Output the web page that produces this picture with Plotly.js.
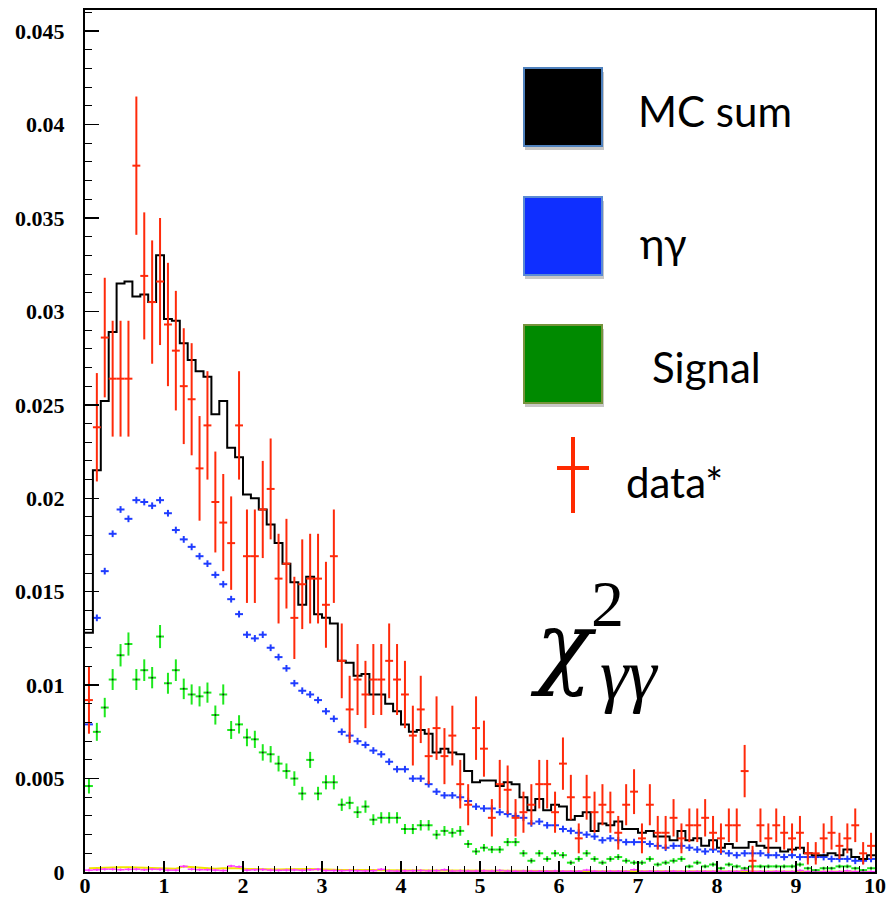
<!DOCTYPE html>
<html>
<head>
<meta charset="utf-8">
<script src="https://cdn.plot.ly/plotly-3.0.1.min.js"></script>
<style>html,body{margin:0;padding:0;background:#fff;}#chart{width:886px;height:899px;}</style>
</head>
<body>
<div id="chart"></div>
<script>
// ---- binning (100 bins of width 0.1 over 0..10) ----
const binWidth = 0.1;
const nBins = 100;

// ---- MC sum (black step histogram) ----
const mcSum = [
0.0128,0.0215,0.0252,0.0289,0.0315,0.0316,0.0308,0.0309,0.0305,0.0330,
0.0296,0.0295,0.0283,0.0274,0.0268,0.0265,0.0245,0.0252,0.0227,0.0222,
0.0202,0.0200,0.0194,0.0186,0.0176,0.0165,0.0155,0.0143,0.0158,0.0138,
0.0136,0.0133,0.0113,0.0112,0.0105,0.0106,0.0095,0.0095,0.0090,0.0086,
0.0079,0.0075,0.0076,0.0074,0.0064,0.0066,0.0064,0.0063,0.0054,0.0048,
0.0049,0.0049,0.0046,0.0048,0.0047,0.0040,0.0033,0.0039,0.0033,0.0036,
0.0035,0.0028,0.0030,0.0032,0.0022,0.0026,0.0025,0.0027,0.0023,0.0023,
0.0021,0.0022,0.0019,0.0019,0.0017,0.0022,0.0017,0.0018,0.0014,0.0017,
0.0013,0.0015,0.0013,0.0013,0.0016,0.0014,0.0013,0.0013,0.0011,0.0012,
0.0013,0.0010,0.0009,0.0009,0.0010,0.0009,0.0012,0.0008,0.0007,0.0009];

// ---- data* (red points) ----
const dataVals = [
0.0092,0.0238,0.0286,0.0264,0.0264,0.0264,0.0378,0.0319,0.0305,0.0316,
0.0293,0.0279,0.0260,0.0253,0.0216,0.0239,0.0198,0.0187,0.0176,0.0239,
0.0169,0.0169,0.0194,0.0205,0.0157,0.0165,0.0136,0.0154,0.0157,0.0157,
0.0143,0.0169,0.0113,0.0087,0.0103,0.0095,0.0103,0.0103,0.0113,0.0103,
0.0095,0.0073,0.0087,0.0062,0.0077,0.0062,0.0073,0.0047,0.0036,0.0077,
0.0066,0.0029,0.0047,0.0044,0.0029,0.0032,0.0036,0.0047,0.0047,0.0032,
0.0058,0.0040,0.0018,0.0040,0.0032,0.0036,0.0032,0.0021,0.0036,0.0043,
0.0018,0.0036,0.0021,0.0021,0.0029,0.0018,0.0025,0.0025,0.0029,0.0021,
0.0018,0.0025,0.0025,0.0054,0.0006,0.0025,0.0018,0.0025,0.0021,0.0018,
0.0021,0.0010,0.0010,0.0018,0.0021,0.0014,0.0018,0.0025,0.0010,0.0014];
const dataErr = [
0.0018,0.0029,0.0032,0.0031,0.0031,0.0031,0.0037,0.0034,0.0033,0.0034,
0.0033,0.0032,0.0031,0.0030,0.0028,0.0029,0.0027,0.0026,0.0025,0.0029,
0.0025,0.0025,0.0026,0.0027,0.0024,0.0024,0.0022,0.0024,0.0024,0.0024,
0.0023,0.0025,0.0020,0.0018,0.0019,0.0018,0.0019,0.0019,0.0020,0.0019,
0.0018,0.0016,0.0018,0.0015,0.0017,0.0015,0.0016,0.0013,0.0011,0.0017,
0.0015,0.0010,0.0013,0.0013,0.0010,0.0011,0.0011,0.0013,0.0013,0.0011,
0.0014,0.0012,0.0008,0.0012,0.0011,0.0011,0.0011,0.0009,0.0011,0.0012,
0.0008,0.0011,0.0009,0.0009,0.0010,0.0008,0.0009,0.0009,0.0010,0.0009,
0.0008,0.0009,0.0009,0.0014,0.0008,0.0009,0.0008,0.0009,0.0009,0.0008,
0.0009,0.0006,0.0006,0.0008,0.0009,0.0007,0.0008,0.0009,0.0006,0.0007];

// ---- eta gamma (blue crosses) ----
const etaGamma = [
0.0079,0.0136,0.0161,0.0181,0.0194,0.0189,0.0199,0.0198,0.0196,0.0199,
0.0192,0.0183,0.0178,0.0174,0.0169,0.0165,0.0159,0.0154,0.0146,0.0138,
0.0127,0.0125,0.0127,0.0120,0.0115,0.0109,0.0101,0.0097,0.0095,0.0092,
0.0086,0.0082,0.0075,0.0073,0.0070,0.0068,0.0065,0.0063,0.0059,0.0055,
0.0055,0.0050,0.0050,0.0047,0.0043,0.0041,0.0041,0.0040,0.0038,0.0035,
0.0034,0.0034,0.0032,0.0031,0.0030,0.0029,0.0026,0.0027,0.0025,0.0025,
0.0023,0.0022,0.0021,0.0020,0.0019,0.0017,0.0018,0.0017,0.0016,0.0016,
0.0016,0.0015,0.0014,0.0013,0.0014,0.0014,0.0013,0.0012,0.0011,0.0012,
0.0011,0.0010,0.0009,0.0010,0.0010,0.0010,0.0009,0.0009,0.0008,0.0009,
0.0008,0.0008,0.0008,0.0008,0.0007,0.0007,0.0007,0.0006,0.0006,0.0007];

// ---- Signal (green crosses) ----
const signalVals = [
0.0046,0.0075,0.0088,0.0103,0.0116,0.0122,0.0103,0.0108,0.0104,0.0126,
0.0101,0.0108,0.0098,0.0095,0.0094,0.0096,0.0084,0.0095,0.0076,0.0079,
0.0072,0.0071,0.0064,0.0063,0.0058,0.0054,0.0050,0.0042,0.0060,0.0042,
0.0048,0.0048,0.0036,0.0037,0.0032,0.0035,0.0028,0.0029,0.0029,0.0029,
0.0023,0.0023,0.0025,0.0025,0.0020,0.0022,0.0021,0.0022,0.0015,0.0011,
0.0013,0.0012,0.0012,0.0016,0.0016,0.0010,0.0006,0.0010,0.0007,0.0010,
0.0009,0.0005,0.0007,0.0010,0.0007,0.0005,0.0007,0.0008,0.0006,0.0005,
0.0005,0.0007,0.0004,0.0005,0.0006,0.0007,0.0003,0.0005,0.0003,0.0004,
0.0002,0.0004,0.0003,0.0002,0.0003,0.0003,0.0003,0.0003,0.0003,0.0003,
0.0004,0.0002,0.0001,0.0002,0.0002,0.0003,0.0003,0.0002,0.0001,0.0002];
const signalErr = [
0.00040,0.00048,0.00052,0.00056,0.00060,0.00062,0.00056,0.00058,0.00057,0.00062,
0.00056,0.00058,0.00055,0.00054,0.00054,0.00054,0.00051,0.00054,0.00048,0.00049,
0.00047,0.00046,0.00044,0.00044,0.00042,0.00041,0.00039,0.00036,0.00043,0.00036,
0.00038,0.00038,0.00033,0.00034,0.00031,0.00033,0.00029,0.00030,0.00030,0.00030,
0.00027,0.00027,0.00028,0.00028,0.00025,0.00026,0.00025,0.00026,0.00021,0.00018,
0.00020,0.00019,0.00019,0.00022,0.00022,0.00018,0.00014,0.00018,0.00015,0.00018,
0.00017,0.00012,0.00015,0.00018,0.00015,0.00012,0.00015,0.00016,0.00014,0.00012,
0.00012,0.00015,0.00011,0.00012,0.00014,0.00015,0.00010,0.00012,0.00010,0.00011,
0.00008,0.00011,0.00010,0.00008,0.00010,0.00010,0.00010,0.00010,0.00010,0.00010,
0.00011,0.00008,0.00006,0.00008,0.00008,0.00010,0.00010,0.00008,0.00006,0.00008];

// ---- small backgrounds near zero (yellow line, magenta crosses) ----
const yellowVals = [
0.00020,0.00022,0.00025,0.00025,0.00025,0.00025,0.00024,0.00026,0.00025,0.00022,
0.00020,0.00018,0.00030,0.00028,0.00022,0.00020,0.00018,0.00020,0.00022,0.00020,
0.00016,0.00015,0.00016,0.00015,0.00014,0.00015,0.00016,0.00015,0.00016,0.00015,
0.00012,0.00012,0.00011,0.00012,0.00011,0.00010,0.00011,0.00010,0.00010,0.00010,
0.00009,0.00009,0.00010,0.00009,0.00008,0.00009,0.00008,0.00008,0.00008,0.00007,
0.00007,0.00007,0.00007,0.00006,0.00007,0.00006,0.00006,0.00006,0.00006,0.00005,
0.00005,0.00005,0.00005,0.00005,0.00005,0.00004,0.00005,0.00004,0.00004,0.00004,
0.00004,0.00004,0.00004,0.00003,0.00004,0.00003,0.00003,0.00003,0.00003,0.00003,
0.00003,0.00003,0.00003,0.00003,0.00003,0.00003,0.00002,0.00003,0.00002,0.00002,
0.00002,0.00002,0.00002,0.00002,0.00002,0.00002,0.00002,0.00002,0.00002,0.00002];
const magentaVals = [
0.00010,0.00012,0.00015,0.00015,0.00012,0.00014,0.00015,0.00012,0.00015,0.00014,
0.00010,0.00010,0.00030,0.00015,0.00012,0.00012,0.00010,0.00008,0.00032,0.00028,
0.00010,0.00012,0.00013,0.00010,0.00009,0.00010,0.00011,0.00009,0.00012,0.00014,
0.00008,0.00008,0.00007,0.00008,0.00007,0.00006,0.00007,0.00014,0.00006,0.00005,
0.00006,0.00007,0.00008,0.00006,0.00007,0.00012,0.00005,0.00006,0.00005,0.00005,
0.00006,0.00005,0.00008,0.00005,0.00004,0.00005,0.00004,0.00004,0.00004,0.00005,
0.00004,0.00004,0.00004,0.00010,0.00004,0.00003,0.00004,0.00004,0.00003,0.00012,
0.00003,0.00004,0.00003,0.00003,0.00004,0.00003,0.00003,0.00003,0.00003,0.00003,
0.00003,0.00003,0.00003,0.00010,0.00003,0.00003,0.00002,0.00003,0.00002,0.00002,
0.00008,0.00002,0.00002,0.00002,0.00002,0.00002,0.00006,0.00002,0.00002,0.00002];

// ---- tick labels ----
const xTickVals = [0,1,2,3,4,5,6,7,8,9,10];
const xTickText = ['0','1','2','3','4','5','6','7','8','9','10'];
const yTickVals = [0,0.005,0.01,0.015,0.02,0.025,0.03,0.035,0.04,0.045];
const yTickText = ['0','0.005','0.01','0.015','0.02','0.025','0.03','0.035','0.04','0.045'];

// ---- legend labels ----
const legendLabels = ['MC sum','ηγ','Signal','data*'];

// bin centres / edges (axis grid)
const centers = [], edges = [];
for (let i = 0; i < nBins; i++) centers.push(+(binWidth*(i+0.5)).toFixed(3));
for (let i = 0; i <= nBins; i++) edges.push(+(binWidth*i).toFixed(3));
const mcStepY = mcSum.concat([mcSum[mcSum.length-1]]);

const RED = '#ff2a0a', BLUE = '#1f3cff', GREEN = '#1ee81e';

const traces = [
  {x: centers, y: yellowVals, mode:'lines', line:{color:'#f2e600', width:2}, hoverinfo:'skip'},
  {x: centers, y: magentaVals, mode:'markers', marker:{size:1, color:'#ff3cff'},
   error_x:{type:'constant', value:binWidth/2, width:0, thickness:1.5, color:'#ff3cff'},
   error_y:{type:'constant', value:0.00007, width:0, thickness:1.5, color:'#ff3cff'}},
  {x: centers, y: signalVals, mode:'markers', marker:{size:2, color:'#222'},
   error_x:{type:'constant', value:binWidth/2, width:0, thickness:2, color:GREEN},
   error_y:{type:'data', array:signalErr, width:0, thickness:2, color:GREEN}},
  {x: centers, y: etaGamma, mode:'markers', marker:{size:1, color:BLUE},
   error_x:{type:'constant', value:binWidth/2, width:0, thickness:2, color:BLUE},
   error_y:{type:'constant', value:0.00018, width:0, thickness:2, color:BLUE}},
  {x: edges, y: mcStepY, mode:'lines', line:{shape:'hv', color:'#000', width:2}},
  {x: centers, y: dataVals, mode:'markers', marker:{size:1, color:RED},
   error_x:{type:'constant', value:binWidth/2, width:0, thickness:2, color:RED},
   error_y:{type:'data', array:dataErr, width:0, thickness:2, color:RED}}
];

// pixel -> paper helpers for decorations
const L=85, T=10, W=790, H=862;
const px = v => (v-L)/W;
const py = v => (T+H-v)/H;

const shapes = [];
function box(x0,y0,x1,y1,fill,border){
  shapes.push({type:'rect', xref:'paper', yref:'paper', x0:px(x0+1), x1:px(x1+2), y0:py(y1+4), y1:py(y0+4),
               fillcolor:'rgba(0,0,0,0.22)', line:{width:0}, layer:'above'});
  shapes.push({type:'rect', xref:'paper', yref:'paper', x0:px(x0), x1:px(x1), y0:py(y1), y1:py(y0),
               fillcolor:fill, line:{color:border, width:2}, layer:'above'});
}
box(524,68,602,146,'#000000','#4f81bd');
box(524,197,602,275,'#0f2fff','#5b8bd4');
box(524,325,602,403,'#008a00','#77933c');
shapes.push({type:'line', xref:'paper', yref:'paper', x0:px(573), x1:px(573), y0:py(437), y1:py(513), line:{color:'#ff2a00', width:4}, layer:'above'});
shapes.push({type:'line', xref:'paper', yref:'paper', x0:px(557), x1:px(589), y0:py(468), y1:py(468), line:{color:'#ff2a00', width:4}, layer:'above'});

const legFont = {family:'Lato', size:42, color:'#000'};
const annotations = [
  {text:legendLabels[0], x:px(636), y:py(111), xanchor:'left', yanchor:'middle'},
  {text:legendLabels[1], x:px(638), y:py(243), xanchor:'left', yanchor:'middle'},
  {text:legendLabels[2], x:px(650), y:py(367), xanchor:'left', yanchor:'middle'},
  {text:legendLabels[3], x:px(624), y:py(482), xanchor:'left', yanchor:'middle'}
].map(a => Object.assign({xref:'paper', yref:'paper', showarrow:false, font:legFont}, a));

annotations.push({xref:'paper', yref:'paper', showarrow:false, text:'<i>χ</i>', x:px(563), y:py(645), xanchor:'center', yanchor:'middle', font:{family:'DejaVu Serif', size:92, color:'#000'}});
annotations.push({xref:'paper', yref:'paper', showarrow:false, text:'2', x:px(607), y:py(603), xanchor:'center', yanchor:'middle', font:{family:'Liberation Serif', size:66, color:'#000'}});
annotations.push({xref:'paper', yref:'paper', showarrow:false, text:'<i>γγ</i>', x:px(629), y:py(675), xanchor:'center', yanchor:'middle', font:{family:'Liberation Serif', size:72, color:'#000'}});

const tickFont = {family:'Liberation Serif', size:22, color:'#000', weight:'bold'};

const layout = {
  width:886, height:899,
  margin:{l:L, r:886-L-W, t:T, b:899-T-H, pad:0},
  paper_bgcolor:'#fff', plot_bgcolor:'#fff',
  showlegend:false,
  font:{family:'Liberation Serif'},
  xaxis:{range:[0,10], tickmode:'array', tickvals:xTickVals, ticktext:xTickText,
         ticks:'inside', ticklen:11, tickwidth:1.5, tickcolor:'#000',
         minor:{tickmode:'linear', tick0:0, dtick:0.2, ticks:'inside', ticklen:6, tickwidth:1, tickcolor:'#000'},
         showline:true, linewidth:2, linecolor:'#000', mirror:true, showgrid:false, zeroline:false,
         tickfont:tickFont, ticklabelstandoff:-7},
  yaxis:{range:[0,0.04613], tickmode:'array', tickvals:yTickVals, ticktext:yTickText,
         ticks:'inside', ticklen:14, tickwidth:1.5, tickcolor:'#000',
         minor:{tickmode:'linear', tick0:0, dtick:0.001, ticks:'inside', ticklen:7, tickwidth:1, tickcolor:'#000'},
         showline:true, linewidth:2, linecolor:'#000', mirror:true, showgrid:false, zeroline:false,
         tickfont:tickFont, ticklabelstandoff:14},
  shapes:shapes,
  annotations:annotations
};

Plotly.newPlot('chart', traces, layout, {staticPlot:true, displayModeBar:false});
</script>
</body>
</html>
